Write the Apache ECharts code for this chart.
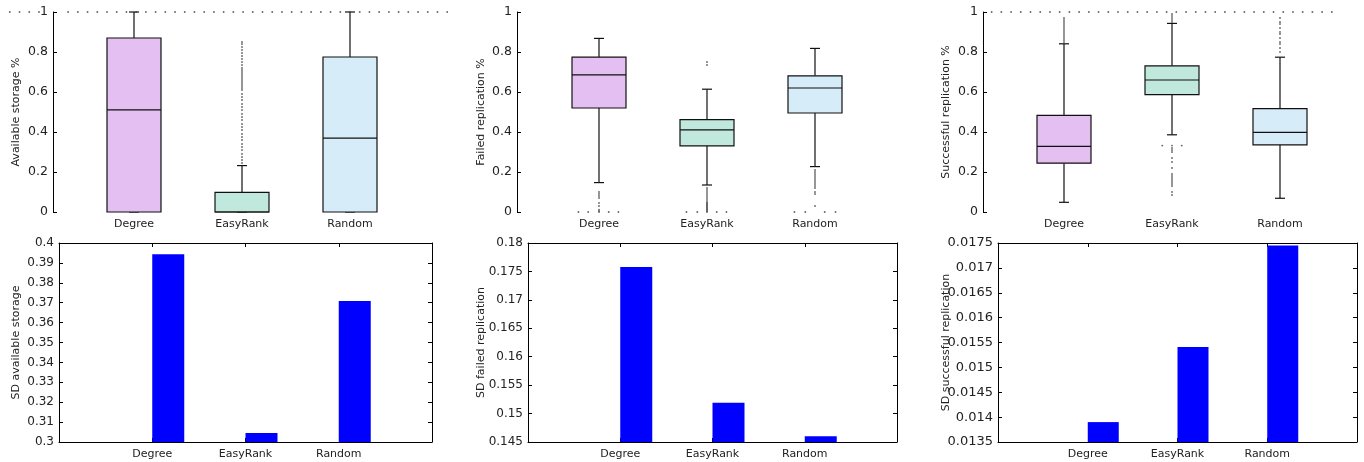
<!DOCTYPE html>
<html><head><meta charset="utf-8">
<script src="https://cdn.jsdelivr.net/npm/echarts@6/dist/echarts.min.js"></script>
<style>html,body{margin:0;padding:0;background:#fff}#c{width:1364px;height:462px}</style>
</head><body><div id="c"></div>
<script>
// ---------- DATA ----------
const categories = ['Degree', 'EasyRank', 'Random'];
// box stats per category: [lowWhisker, q1, median, q3, highWhisker]
const availBoxes = [[0, 0, 0.511, 0.870, 1.0], [0, 0, 0, 0.0985, 0.232], [0, 0, 0.369, 0.775, 1.0]];
const failedBoxes = [[0.147, 0.520, 0.686, 0.774, 0.868], [0.135, 0.331, 0.411, 0.462, 0.614], [0.227, 0.495, 0.620, 0.681, 0.818]];
const successBoxes = [[0.0485, 0.244, 0.328, 0.483, 0.841], [0.386, 0.587, 0.660, 0.731, 0.943], [0.0686, 0.336, 0.398, 0.517, 0.774]];
// outliers: [position (category index, jittered), value]
const availOutliers = [
  [-1.15,1],[-1.06,1],[-0.97,1],[-0.88,1],[-0.61,1],[-0.52,1],[-0.43,1],[-0.34,1],[-0.25,1],[-0.16,1],[-0.07,1],[0.02,1],[0.11,1],[0.20,1],[0.29,1],[0.38,1],[0.47,1],[0.56,1],[0.65,1],[0.74,1],[0.83,1],[0.92,1],[1.01,1],[1.10,1],[1.19,1],[1.28,1],[1.37,1],[1.46,1],[1.55,1],[1.64,1],[1.73,1],[1.82,1],[1.91,1],[2.00,1],[2.09,1],[2.18,1],[2.27,1],[2.36,1],[2.45,1],[2.54,1],[2.63,1],[2.72,1],[2.81,1],[2.90,1],
  [1,0.245],[1,0.26],[1,0.275],[1,0.29],[1,0.31],[1,0.325],[1,0.34],[1,0.36],[1,0.375],[1,0.39],[1,0.41],[1,0.425],[1,0.44],[1,0.46],[1,0.475],[1,0.49],[1,0.51],[1,0.525],[1,0.54],[1,0.56],[1,0.575],[1,0.59],[1,0.61],[1,0.62],[1,0.63],[1,0.64],[1,0.65],[1,0.66],[1,0.67],[1,0.68],[1,0.69],[1,0.70],[1,0.71],[1,0.72],[1,0.735],[1,0.75],[1,0.765],[1,0.78],[1,0.795],[1,0.81],[1,0.825],[1,0.84],[1,0.85]
];
const failedOutliers = [
  [0,0.03],[0,0.045],[0,0.07],[0,0.08],[0,0.09],[0,0.10],[0,0.005],[0,0.012],
  [-0.19,0],[-0.10,0],[0,0],[0.09,0],[0.18,0],
  [1,0.735],[1,0.75],
  [1,0],[1,0.005],[1,0.01],[1,0.015],[1,0.02],[1,0.025],[1,0.03],[1,0.035],[1,0.04],[1,0.045],[1,0.05],[1,0.06],[1,0.07],[1,0.08],[1,0.09],[1,0.10],[1,0.11],[1,0.12],
  [0.81,0],[0.91,0],[1.09,0],[1.18,0],
  [2,0.03],[2,0.09],[2,0.10],[2,0.12],[2,0.13],[2,0.14],[2,0.15],[2,0.16],[2,0.17],[2,0.18],[2,0.19],[2,0.20],[2,0.21],
  [1.81,0],[1.91,0],[2.09,0],[2.19,0]
];
const successOutliers = [
  [-0.67,1],[-0.58,1],[-0.49,1],[-0.40,1],[-0.31,1],[-0.22,1],[-0.13,1],[-0.04,1],[0.05,1],[0.14,1],[0.23,1],[0.32,1],[0.41,1],[0.50,1],[0.59,1],[0.68,1],[0.77,1],[0.86,1],[0.95,1],[1.04,1],[1.13,1],[1.22,1],[1.31,1],[1.40,1],[1.49,1],[1.58,1],[1.67,1],[1.76,1],[1.85,1],[1.94,1],[2.03,1],[2.12,1],[2.21,1],[2.30,1],[2.39,1],[2.48,1],
  [0,0.85],[0,0.86],[0,0.87],[0,0.88],[0,0.89],[0,0.90],[0,0.91],[0,0.92],[0,0.93],[0,0.94],[0,0.95],[0,0.96],[0,0.97],
  [1,0.95],[1,0.96],[1,0.97],[1,0.98],[1,0.99],
  [0.91,0.332],[1,0.332],[1.09,0.332],
  [1,0.085],[1,0.10],[1,0.13],[1,0.14],[1,0.15],[1,0.16],[1,0.17],[1,0.18],[1,0.19],[1,0.22],[1,0.25],[1,0.27],[1,0.30],[1,0.31],[1,0.32],
  [2,0.80],[2,0.82],[2,0.84],[2,0.85],[2,0.87],[2,0.89],[2,0.90],[2,0.92],[2,0.94],[2,0.95],[2,0.97]
];
const sdAvail = [0.3943, 0.3045, 0.3709];
const sdFailed = [0.1758, 0.1519, 0.1460];
const sdSuccess = [0.01390, 0.01541, 0.01745];
const topTicks = {min: 0, max: 1, interval: 0.2};
const sdAvailTicks = {min: 0.3, max: 0.4, interval: 0.01};
const sdFailedTicks = {min: 0.145, max: 0.18, interval: 0.005};
const sdSuccessTicks = {min: 0.0135, max: 0.0175, interval: 0.0005};

// ---------- STYLE ----------
const FONT = 'DejaVu Sans';
const TXT = '#222';
const boxColors = ['#e4c0f2', '#c0e8dc', '#d6ecf8'];
const catFont = 11, nameFont = 11;

const chart = echarts.init(document.getElementById('c'));
const grids = [], xAxes = [], yAxes = [], series = [];
const fmt = v => String(+(+v).toFixed(6));

function renderBox(params, api) {
  const i = api.value(0);
  const low = api.coord([i, api.value(1)]);
  const q1 = api.coord([i, api.value(2)]);
  const med = api.coord([i, api.value(3)]);
  const q3 = api.coord([i, api.value(4)]);
  const high = api.coord([i, api.value(5)]);
  const bw = api.size([1, 0])[0] * 0.5;
  const cx = low[0], cap = 5;
  const ls = {stroke: '#111', lineWidth: 1.2, fill: null};
  return {type: 'group', children: [
    {type: 'line', shape: {x1: cx, y1: q3[1], x2: cx, y2: high[1]}, style: ls},
    {type: 'line', shape: {x1: cx, y1: q1[1], x2: cx, y2: low[1]}, style: ls},
    {type: 'line', shape: {x1: cx - cap, y1: high[1], x2: cx + cap, y2: high[1]}, style: ls},
    {type: 'line', shape: {x1: cx - cap, y1: low[1], x2: cx + cap, y2: low[1]}, style: ls},
    {type: 'rect', shape: {x: cx - bw / 2, y: q3[1], width: bw, height: q1[1] - q3[1]},
      style: {fill: boxColors[i], stroke: '#111', lineWidth: 1.2}},
    {type: 'line', shape: {x1: cx - bw / 2, y1: med[1], x2: cx + bw / 2, y2: med[1]}, style: ls}
  ]};
}

function topPanel(left, offset, name, nameGap, boxes, outliers) {
  const gi = grids.length;
  grids.push({left: left, top: 12, width: 324, height: 200, outerBoundsMode: 'none', containLabel: false});
  const xc = xAxes.length;
  xAxes.push({gridIndex: gi, type: 'category', data: categories, boundaryGap: true,
    axisLine: {show: false, onZero: false}, axisTick: {show: false}, splitLine: {show: false},
    axisLabel: {fontFamily: FONT, fontSize: catFont, color: TXT, margin: 7}});
  const xv = xAxes.length;
  xAxes.push({gridIndex: gi, type: 'value', min: -0.5, max: 2.5, show: false,
    axisLine: {onZero: false}, splitLine: {show: false}});
  const yi = yAxes.length;
  yAxes.push({gridIndex: gi, type: 'value', min: topTicks.min, max: topTicks.max, interval: topTicks.interval,
    offset: offset, position: 'left',
    axisLine: {show: true, onZero: false, lineStyle: {color: '#000', width: 1}},
    axisTick: {show: true, inside: true, length: 4, lineStyle: {color: '#000'}},
    splitLine: {show: false},
    axisLabel: {fontFamily: FONT, fontSize: 12.5, color: TXT, margin: 5, formatter: fmt},
    name: name, nameLocation: 'middle', nameGap: nameGap, nameMoveOverlap: false,
    nameTextStyle: {fontFamily: FONT, fontSize: nameFont, color: TXT}});
  series.push({type: 'custom', xAxisIndex: xc, yAxisIndex: yi, renderItem: renderBox,
    data: boxes.map((b, i) => [i].concat(b)), encode: {x: 0, y: [1, 2, 3, 4, 5]}, silent: true});
  series.push({type: 'scatter', xAxisIndex: xv, yAxisIndex: yi, data: outliers, symbol: 'circle',
    symbolSize: 1.9, itemStyle: {color: '#444'}, clip: false, silent: true});
}

function bottomPanel(left, width, name, nameGap, ticks, values, bw, tickFont) {
  const gi = grids.length;
  grids.push({left: left, top: 243, width: width, height: 199, outerBoundsMode: 'none', containLabel: false});
  const cats = [''].concat(categories, ['']);
  const xb = xAxes.length;
  const common = {gridIndex: gi, type: 'category', data: cats, boundaryGap: false,
    axisLine: {show: true, onZero: false, lineStyle: {color: '#000', width: 1}},
    axisTick: {show: true, inside: true, length: 4, interval: 0, lineStyle: {color: '#000'}},
    splitLine: {show: false}};
  xAxes.push(Object.assign({}, common, {position: 'bottom',
    axisLabel: {fontFamily: FONT, fontSize: catFont, color: TXT, margin: 7, interval: 0}}));
  xAxes.push(Object.assign({}, common, {position: 'top', axisLabel: {show: false}}));
  const yl = yAxes.length;
  const ycommon = {gridIndex: gi, type: 'value', min: ticks.min, max: ticks.max, interval: ticks.interval,
    axisLine: {show: true, onZero: false, lineStyle: {color: '#000', width: 1}},
    axisTick: {show: true, inside: true, length: 4, lineStyle: {color: '#000'}},
    splitLine: {show: false}};
  yAxes.push(Object.assign({}, ycommon, {position: 'left',
    axisLabel: {fontFamily: FONT, fontSize: tickFont, color: TXT, margin: 5, formatter: fmt},
    name: name, nameLocation: 'middle', nameGap: nameGap, nameMoveOverlap: false,
    nameTextStyle: {fontFamily: FONT, fontSize: nameFont, color: TXT}}));
  yAxes.push(Object.assign({}, ycommon, {position: 'right', axisLabel: {show: false}}));
  const blank = cats.map(() => null);
  const vals = [null].concat(values, [null]);
  series.push({type: 'bar', xAxisIndex: xb, yAxisIndex: yl, data: blank, barWidth: bw, barGap: '0%', silent: true});
  series.push({type: 'bar', xAxisIndex: xb, yAxisIndex: yl, data: vals, barWidth: bw, barGap: '0%',
    itemStyle: {color: '#0000ff'}, silent: true});
}

topPanel(80, 27, 'Available storage %', 31, availBoxes, availOutliers);
topPanel(545, 28, 'Failed replication %', 30, failedBoxes, failedOutliers);
topPanel(1010, 27, 'Successful replication %', 31, successBoxes, successOutliers);
bottomPanel(59, 373, 'SD available storage', 37, sdAvailTicks, sdAvail, 32, 12);
bottomPanel(528, 369, 'SD failed replication', 41, sdFailedTicks, sdFailed, 32, 12);
bottomPanel(998, 359, 'SD successful replication', 46, sdSuccessTicks, sdSuccess, 31, 13);

chart.setOption({
  animation: false,
  backgroundColor: '#fff',
  grid: grids, xAxis: xAxes, yAxis: yAxes, series: series
});
</script></body></html>
